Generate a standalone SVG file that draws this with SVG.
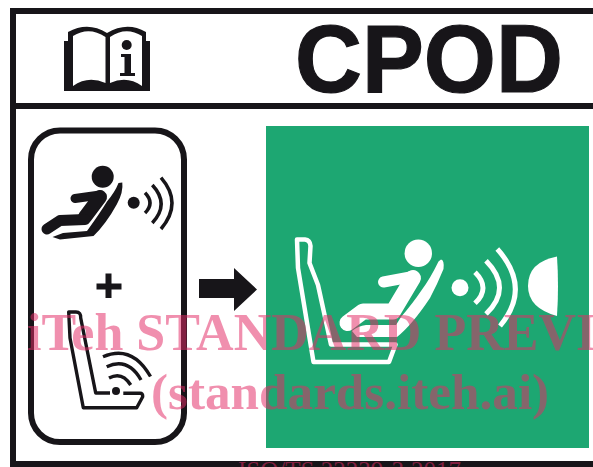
<svg xmlns="http://www.w3.org/2000/svg" width="593" height="467" viewBox="0 0 593 467">
<style>
.k{fill:#171519}
.w{fill:#fff}
.ks{fill:none;stroke:#171519;stroke-linecap:butt;stroke-linejoin:round}
.kr{fill:none;stroke:#171519;stroke-linecap:round;stroke-linejoin:round}
.ws{fill:none;stroke:#fff;stroke-linecap:butt;stroke-linejoin:round}
.wr{fill:none;stroke:#fff;stroke-linecap:round;stroke-linejoin:round}
.wm{font-family:"Liberation Serif",serif;fill:#e22b66;fill-opacity:.53}
</style>
<rect width="593" height="467" fill="#fff"/>
<g id="frame">
<rect class="k" x="10" y="8" width="583" height="6"/>
<rect class="k" x="10" y="8" width="6" height="459"/>
<rect class="k" x="10" y="103" width="583" height="6"/>
<rect class="k" x="10" y="461" width="583" height="6"/>
</g>
<g id="book-icon">
<path class="k" d="M64 91V41H68V32Q88 21 107 33Q127 21 146 32V41H150V91Z"/>
<path class="w" d="M73 36Q89 26 105.500 37V83Q88 75 73 86Z"/>
<path class="w" d="M110 37Q126 26 142 36V86Q127 75 110 83Z"/>
<circle class="k" cx="126.700" cy="45" r="5"/>
<path class="k" d="M121 54H131V73H135V76H120V73H124.500V57H121Z"/>
</g>
<text id="title" x="295" y="92" font-family="'Liberation Sans',Arial,sans-serif" font-weight="700" font-size="96" class="k" stroke="#171519" stroke-width="1.200" textLength="268" lengthAdjust="spacingAndGlyphs">CPOD</text>
<g id="requirement-panel">
<rect x="31" y="130.500" width="153" height="311.500" rx="29" fill="none" stroke="#171519" stroke-width="6"/>
</g>
<g id="child-signal-icon">
<circle class="k" cx="102.700" cy="176.700" r="11"/>
<path class="kr" stroke-width="9" d="M75 198.500L100 195"/>
<path class="kr" stroke-width="14" d="M100 197L85 217"/>
<path class="kr" stroke-width="11" d="M85 219.500L60 220.500L47 229"/>
<path class="k" d="M118.500 183L122.300 182.500Q123.500 192 117 204Q106 224 93.500 236L60 239.500L52.500 237L63 233L87 231Q100 213 107 201.500Q115 192 118.500 183Z"/>
<circle class="k" cx="133.700" cy="202.700" r="6"/>
<path class="ks" stroke-width="3.500" d="M145 192.700Q155 203 145 213M152.300 185Q170 204 152.300 223M161 177.700Q183 203 161 229"/>
</g>
<g id="plus">
<path class="k" d="M105.500 273.500H111.500V283.500H121.500V289.500H111.500V298H105.500V289.500H96.500V283.500H105.500Z"/>
</g>
<g id="child-seat-icon">
<path class="ks" stroke-width="3.400" d="M110 393H95.700L86.700 348L80.700 318Q81 312 76 312H68.700L70 338L83.300 407.700H136.700L142.700 396.700Q143 393.300 140 393.300H123.300"/>
<circle class="k" cx="116" cy="391" r="4"/>
<path class="ks" stroke-width="3.400" d="M109 378Q122 371 130.700 385M106.700 366.700Q128 357 141 380M103 356.700Q132 344 150.500 376.500"/>
</g>
<g id="arrow">
<path class="k" d="M199 279H234V268L257 289.500L234 311V298H199Z"/>
</g>
<g id="result-panel">
<rect x="266" y="126" width="323" height="322" fill="#1da772"/>
<g id="seat-outline">
<path class="ws" stroke-width="4.500" d="M297 239.500H305Q310 240 310.500 246L309.500 263L318 285L331 344.500H395.500L389 362H313.500L298 268Z"/>
</g>
<g id="child">
<circle class="w" cx="418.300" cy="253.300" r="13.700"/>
<path class="wr" stroke-width="11" d="M383.500 282L413 276.500"/>
<path class="wr" stroke-width="16" d="M413 278L393 311.500H363L347.500 323"/>
<path class="w" d="M438.500 261.500L441 259.500Q444.500 260 443.500 269Q437 285 430 298Q412 325 397 337H357L352 331Q358 326 366 325H396L401 317Q413 303 421.700 290Q430 279 438.500 261.500Z"/>
</g>
<g id="signal">
<circle class="w" cx="460" cy="287.700" r="8.500"/>
<path class="ws" stroke-width="5" d="M475 272.300Q491 288 475 303.300M486 260.700Q513 288 486 314M497.300 249Q532 288 500 326"/>
</g>
<g id="receiver">
<path class="w" d="M557 256.500Q528 262 528 286Q528 308 557 316Q559 286 557 256.500Z"/>
</g>
</g>
<g id="watermark">
<text class="wm" x="27" y="350" font-weight="700" font-size="52">iTeh STANDARD PREVI</text>
<text class="wm" x="151" y="409" font-weight="700" font-size="51.200">(standards.iteh.ai)</text>
<text class="wm" x="238" y="479" font-size="25">ISO/TS 22239-3:2017</text>
</g>
</svg>
